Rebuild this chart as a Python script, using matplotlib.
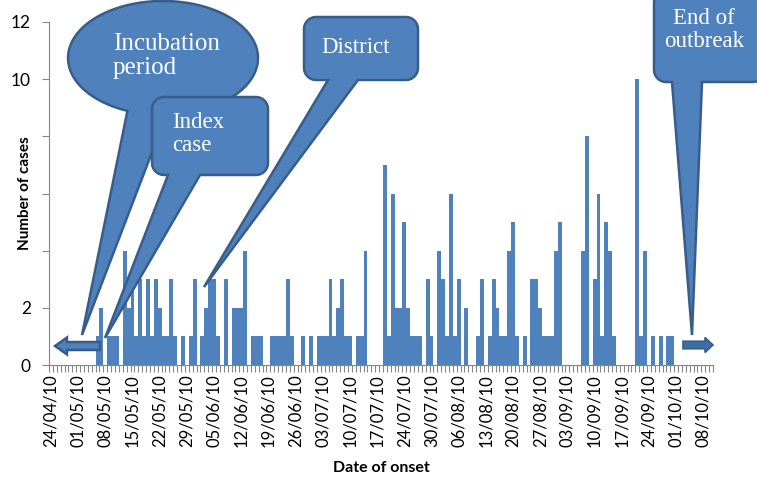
import numpy as np
import matplotlib
matplotlib.use("Agg")
import matplotlib.pyplot as plt
from matplotlib.patches import Polygon

# daily case counts, one value per day starting 24/04/10
cases = [
    0, 0, 0, 0, 0, 0, 0, 0, 0, 0, 0, 0, 1, 2, 0, 1, 1, 1, 0, 4,
    2, 3, 1, 3, 1, 3, 1, 3, 2, 1, 1, 3, 1, 0, 1, 0, 1, 3, 0, 1,
    2, 3, 3, 1, 0, 3, 0, 2, 2, 2, 4, 0, 1, 1, 1, 0, 0, 1, 1, 1,
    1, 3, 1, 0, 0, 1, 0, 1, 0, 1, 1, 1, 3, 1, 2, 3, 1, 1, 0, 1,
    1, 4, 0, 0, 0, 0, 7, 1, 6, 2, 2, 5, 2, 1, 1, 1, 0, 3, 1, 0,
    4, 3, 1, 6, 1, 3, 0, 2, 0, 0, 1, 3, 0, 1, 3, 2, 1, 1, 4, 5,
    1, 0, 1, 0, 3, 3, 2, 1, 1, 1, 4, 5, 0, 0, 0, 0, 0, 4, 8, 0,
    3, 6, 1, 5, 4, 1, 0, 0, 0, 0, 0, 10, 1, 4, 0, 1, 0, 1, 0, 1,
    1, 0, 0, 0, 0, 0, 0, 0, 0, 0, 0,
]
date_labels = [
    "24/04/10", "01/05/10", "08/05/10", "15/05/10", "22/05/10", "29/05/10",
    "05/06/10", "12/06/10", "19/06/10", "26/06/10", "03/07/10", "10/07/10",
    "17/07/10", "24/07/10", "30/07/10", "06/08/10", "13/08/10", "20/08/10",
    "27/08/10", "03/09/10", "10/09/10", "17/09/10", "24/09/10", "01/10/10",
    "08/10/10",
]
label_step = 7
y_ticks = [0, 2, 4, 6, 8, 10, 12]
# 4, 6 and 8 sit under the axis title in the original
y_tick_labels = ["0", "2", "", "", "", "10", "12"]

BLUE = "#4F81BD"
EDGE = "#385D8A"
W, H = 757, 479

fig = plt.figure(figsize=(W / 100, H / 100), dpi=100)
ax = fig.add_axes([49 / W, 1 - 365 / H, 664 / W, 343 / H])

x = np.arange(len(cases))
ax.bar(x, cases, width=1.0, color=BLUE, edgecolor="none", zorder=2)

ax.set_xlim(-0.5, len(cases) - 0.5)
ax.set_ylim(0, 12)
ax.set_yticks(y_ticks)
ax.set_yticklabels(y_tick_labels, fontsize=12.5, family="Lato")
ax.set_xticks(np.arange(len(date_labels)) * label_step)
ax.set_xticklabels(date_labels, rotation=90, fontsize=12, family="Lato")
ax.set_xticks(np.arange(len(cases) + 1) - 0.5, minor=True)
ax.tick_params(axis="x", which="major", length=0, pad=7)
ax.tick_params(axis="x", which="minor", length=5, color="#868686", width=0.8)
ax.tick_params(axis="y", length=5, color="#868686", pad=8)

for s in ["top", "right"]:
    ax.spines[s].set_visible(False)
for s in ["left", "bottom"]:
    ax.spines[s].set_color("#868686")

ax.set_xlabel("Date of onset", fontsize=11.5, fontweight="bold", family="Lato", labelpad=10)
ax.set_ylabel("Number of cases", fontsize=11, fontweight="bold", family="Lato")
ax.yaxis.set_label_coords(-0.026, 0.5)

# overlay in pixel coordinates for the callouts and arrows
ov = fig.add_axes([0, 0, 1, 1], zorder=5)
ov.set_xlim(0, W)
ov.set_ylim(H, 0)
ov.axis("off")
ov.patch.set_alpha(0)


def rounded_rect_callout(x0, y0, x1, y1, r, base_l, base_r, tip, n=8):
    pts = []
    corners = [(x1 - r, y0 + r, -90, 0), (x1 - r, y1 - r, 0, 90),
               (x0 + r, y1 - r, 90, 180), (x0 + r, y0 + r, 180, 270)]
    for k, (cx, cy, a0, a1) in enumerate(corners):
        for t in np.radians(np.linspace(a0, a1, n)):
            pts.append((cx + r * np.cos(t), cy + r * np.sin(t)))
        if k == 1:
            pts += [(base_r, y1), tip, (base_l, y1)]
    return pts


def ellipse_callout(cx, cy, a, b, t_left, t_right, tip, n=120):
    ts = np.radians(np.linspace(t_left, t_right + 360, n))
    pts = [(cx + a * np.cos(t), cy + b * np.sin(t)) for t in ts]
    pts.append(tip)
    return pts


def block_arrow(x_tail, x_tip, y, body_h, head_h, head_len):
    d = np.sign(x_tip - x_tail)
    xb = x_tip - d * head_len
    return [(x_tail, y - body_h / 2), (xb, y - body_h / 2), (xb, y - head_h / 2),
            (x_tip, y), (xb, y + head_h / 2), (xb, y + body_h / 2),
            (x_tail, y + body_h / 2)]


shapes = [
    ellipse_callout(163, 58, 95, 57, 112, 88, (82, 335)),
    rounded_rect_callout(152, 97, 268, 175, 12, 168, 200, (105, 338)),
    rounded_rect_callout(304, 17, 418, 80, 12, 328, 358, (204, 287)),
    rounded_rect_callout(654, -10, 765, 82, 12, 672, 702, (692, 335)),
]
for pts in shapes:
    ov.add_patch(Polygon(pts, closed=True, facecolor=BLUE, edgecolor=EDGE, lw=1.8))

ov.add_patch(Polygon(block_arrow(100, 55, 346, 8, 17, 12), closed=True,
                     facecolor=BLUE, edgecolor=EDGE, lw=1.8))
ov.add_patch(Polygon(block_arrow(683, 713, 345, 7.5, 15, 8), closed=True,
                     facecolor="#3F6EA6", edgecolor=EDGE, lw=1.2))

serif = "Liberation Serif"
ov.text(113, 56, "Incubation\nperiod", color="white", fontsize=18, family=serif,
        ha="left", va="center", linespacing=1.15)
ov.text(172, 134, "Index\ncase", color="white", fontsize=16.5, family=serif,
        ha="left", va="center", linespacing=1.15)
ov.text(356, 47, "District", color="white", fontsize=16.5, family=serif,
        ha="center", va="center")
ov.text(704, 30, "End of\noutbreak", color="white", fontsize=16.5, family=serif,
        ha="center", va="center", linespacing=1.15)

fig.savefig("out.png", dpi=100)
